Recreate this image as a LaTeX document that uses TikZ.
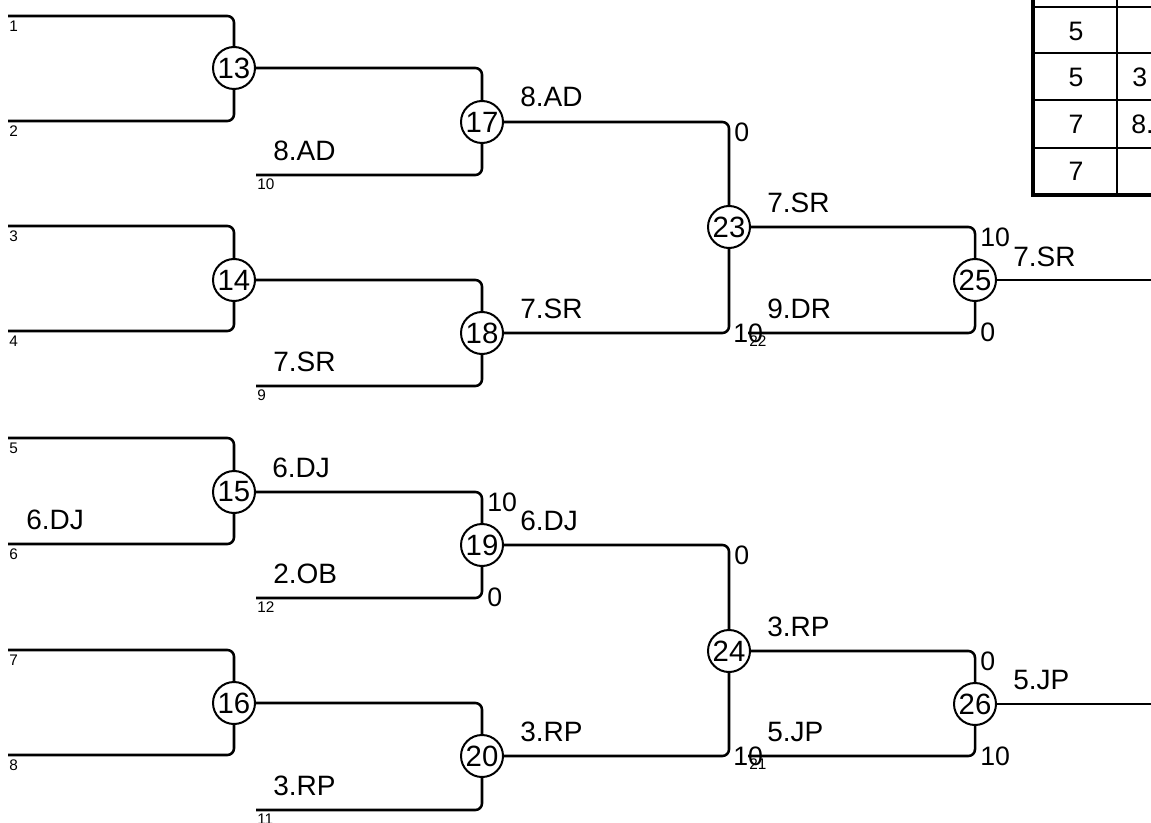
\documentclass[tikz,border=0pt]{standalone}
\usepackage{fontspec}
\setmainfont{Liberation Sans}
\begin{document}
\begin{tikzpicture}[x=0.75pt, y=-0.75pt,
	match/.style={circle, draw, line width=1.5pt, inner sep=0pt, minimum size=31.5pt, font=\fontsize{22}{22}\selectfont},
	link/.style={line width=1.9pt, rounded corners=5pt},
	seed/.style={anchor=north west, inner sep=0pt, font=\fontsize{11.5}{12}\selectfont},
	team/.style={anchor=south west, inner sep=0pt, font=\fontsize{21}{21}\selectfont},
	score/.style={inner sep=0pt, font=\fontsize{20}{20}\selectfont}]
	\useasboundingbox (0, 0) rectangle (1151, 823);
	% first round
	\coordinate (s1) at (8, 16);	\node[seed] at (9, 21) {1};
	\coordinate (s2) at (8, 121);	\node[seed] at (9, 126) {2};
	\coordinate (s3) at (8, 226);	\node[seed] at (9, 231) {3};
	\coordinate (s4) at (8, 331);	\node[seed] at (9, 336) {4};
	\coordinate (s5) at (8, 438);	\node[seed] at (9, 443) {5};
	\coordinate (s6) at (8, 544);	\node[seed] at (9, 549) {6};
	\coordinate (s7) at (8, 650);	\node[seed] at (9, 655) {7};
	\coordinate (s8) at (8, 755);	\node[seed] at (9, 760) {8};
	\node[match] (13) at (234, 68) {13};
	\node[match] (14) at (234, 280) {14};
	\node[match] (15) at (234, 492) {15};
	\node[match] (16) at (234, 703) {16};
	\draw[link] (s1) -| (13);
	\draw[link] (s2) -| (13);
	\draw[link] (s3) -| (14);
	\draw[link] (s4) -| (14);
	\draw[link] (s5) -| (15);
	\draw[link] (s6) -| (15);
	\draw[link] (s7) -| (16);
	\draw[link] (s8) -| (16);
	\node[team] (t6) at (26, 530) {6.DJ};
	% second round
	\coordinate (s10) at (256, 175);	\node[seed] at (257, 179) {10};
	\coordinate (s9) at (256, 386);		\node[seed] at (257, 390) {9};
	\coordinate (s12) at (256, 598);	\node[seed] at (257, 602) {12};
	\coordinate (s11) at (256, 810);	\node[seed] at (257, 814) {11};
	\node[match] (17) at (482, 122) {17};
	\node[match] (18) at (482, 333) {18};
	\node[match] (19) at (482, 545) {19};
	\node[match] (20) at (482, 756) {20};
	\draw[link] (13) -| (17);
	\draw[link] (s10) -| (17);
	\draw[link] (14) -| (18);
	\draw[link] (s9) -| (18);
	\draw[link] (15) -| (19);
	\draw[link] (s12) -| (19);
	\draw[link] (16) -| (20);
	\draw[link] (s11) -| (20);
	\node[team] (t10) at (273, 161) {8.AD};
	\node[team] (t9) at (273, 372) {7.SR};
	\node[team] (t15) at (272, 478) {6.DJ};
	\node[team] (t12) at (273, 584) {2.OB};
	\node[team] (t11) at (273, 796) {3.RP};
	\node[score, anchor=north west] (a19) at (487, 493) {10};
	\node[score, anchor=west] (b19) at (487, 597) {0};
	% semi finals
	\node[match] (23) at (729, 227) {23};
	\node[match] (24) at (729, 651) {24};
	\draw[link] (17) -| (23);
	\draw[link] (18) -| (23);
	\draw[link] (19) -| (24);
	\draw[link] (20) -| (24);
	\node[team] (t17) at (520, 107) {8.AD};
	\node[team] (t18) at (520, 319) {7.SR};
	\node[team] (t19) at (520, 531) {6.DJ};
	\node[team] (t20) at (520, 742) {3.RP};
	\node[score, anchor=north west] (a23) at (734, 123) {0};
	\node[score, anchor=west] (b23) at (733, 333) {10};
	\node[score, anchor=north west] (a24) at (734, 546) {0};
	\node[score, anchor=west] (b24) at (733, 756) {10};
	% finals
	\coordinate (s22) at (748, 333);	\node[seed] at (749, 336) {22};
	\coordinate (s21) at (748, 756);	\node[seed] at (749, 759) {21};
	\node[match] (25) at (975, 280) {25};
	\node[match] (26) at (975, 704) {26};
	\draw[link] (23) -| (25);
	\draw[link] (s22) -| (25);
	\draw[link] (24) -| (26);
	\draw[link] (s21) -| (26);
	\node[team] (t23) at (767, 213) {7.SR};
	\node[team] (t22) at (767, 319) {9.DR};
	\node[team] (t24) at (767, 637) {3.RP};
	\node[team] (t21) at (767, 742) {5.JP};
	\node[score, anchor=north west] (a25) at (980, 228) {10};
	\node[score, anchor=west] (b25) at (980, 332) {0};
	\node[score, anchor=north west] (a26) at (980, 652) {0};
	\node[score, anchor=west] (b26) at (980, 756) {10};
	\coordinate (o25) at (1151, 280);
	\coordinate (o26) at (1151, 704);
	\draw[link] (25) -- (o25);
	\draw[link] (26) -- (o26);
	\node[team] (w25) at (1013, 267) {7.SR};
	\node[team] (w26) at (1013, 690) {5.JP};
	% results table
	\draw[line width=1.5pt] (1117, -40) -- (1117, 195);
	\draw[line width=1.5pt] (1033, 7) -- (1151, 7);
	\draw[line width=1.5pt] (1033, 53) -- (1151, 53);
	\draw[line width=1.5pt] (1033, 100) -- (1151, 100);
	\draw[line width=1.5pt] (1033, 148) -- (1151, 148);
	\draw[line width=3.5pt] (1033, -40) -- (1033, 195) -- (1151, 195);
	\node[score] (r1) at (1076, 31) {5};
	\node[score] (r2) at (1076, 77) {5};
	\node[score] (r3) at (1076, 124) {7};
	\node[score] (r4) at (1076, 171) {7};
	\node[score, anchor=west] (q2) at (1132, 77) {3};
	\node[score, anchor=west] (q3) at (1131, 124) {8.};
\end{tikzpicture}
\end{document}
